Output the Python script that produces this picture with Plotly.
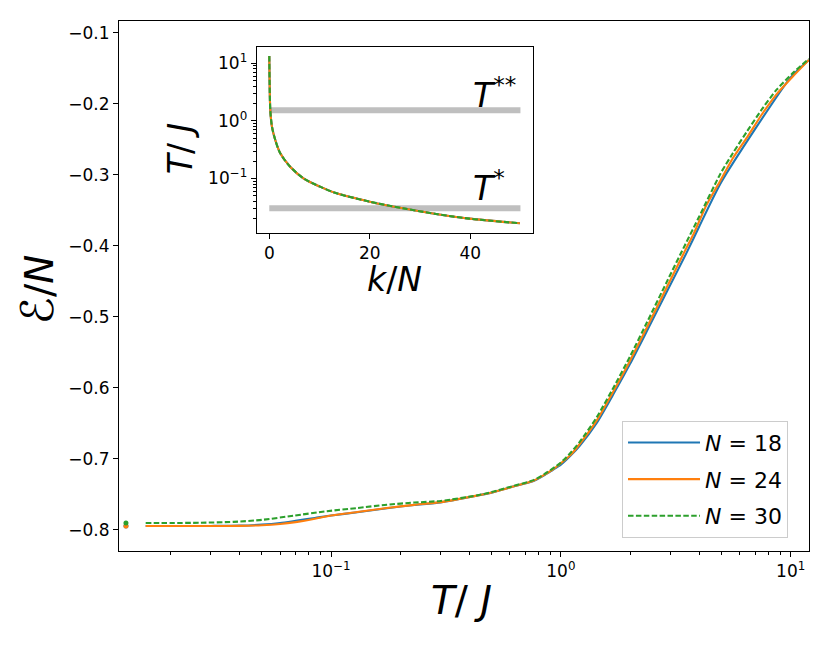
import plotly.graph_objects as go

# ---------------- data ----------------
T_18 = [0.0156, 0.02, 0.03, 0.04, 0.05, 0.06, 0.07, 0.085, 0.1, 0.13, 0.175, 0.23, 0.3,
        0.43, 0.5, 0.6, 0.76, 0.85, 0.92, 1.0, 1.1, 1.21, 1.43, 1.7, 2.0, 2.37, 2.9, 3.5,
        4.0, 5.0, 10.0, 12.0]
E_18 = [-0.7948, -0.7948, -0.7947, -0.7943, -0.7928, -0.7905, -0.7875, -0.7835, -0.7800,
        -0.7755, -0.7697, -0.7652, -0.7615, -0.7522, -0.7478, -0.7405, -0.7315, -0.7230,
        -0.7160, -0.7085, -0.6960, -0.6815, -0.6500, -0.6080, -0.5665, -0.5200, -0.4640,
        -0.4120, -0.3730, -0.3100, -0.1630, -0.1385]

T_24 = [0.0156, 0.02, 0.03, 0.04, 0.05, 0.06, 0.07, 0.085, 0.1, 0.13, 0.175, 0.23, 0.3,
        0.43, 0.5, 0.6, 0.76, 0.85, 0.92, 0.99, 1.1, 1.21, 1.43, 1.7, 2.0, 2.37, 2.89, 3.47,
        3.78, 4.3, 4.94, 5.6, 6.46, 7.5, 8.71, 10.3, 12.0]
E_24 = [-0.7948, -0.7948, -0.7948, -0.7946, -0.7938, -0.7920, -0.7893, -0.7845, -0.7800,
        -0.7752, -0.7694, -0.7650, -0.7612, -0.7520, -0.7475, -0.7405, -0.7310, -0.7225,
        -0.7155, -0.7075, -0.6950, -0.6790, -0.6465, -0.6040, -0.5620, -0.5150, -0.4587,
        -0.4070, -0.3835, -0.3430, -0.3085, -0.2770, -0.2475, -0.2150, -0.1863, -0.1606,
        -0.1385]

T_30 = [0.0156, 0.02, 0.027, 0.0375, 0.05, 0.0686, 0.0958, 0.13, 0.175, 0.23, 0.3, 0.43,
        0.5, 0.6, 0.76, 0.85, 0.92, 1.0, 1.1, 1.21, 1.43, 1.7, 2.0, 2.37, 2.89, 3.47, 4.0,
        4.94, 5.6, 6.46, 7.6, 8.71, 10.3, 12.0]
E_30 = [-0.7906, -0.7906, -0.7902, -0.7890, -0.7862, -0.7803, -0.7740, -0.7695, -0.7648,
        -0.7618, -0.7595, -0.7518, -0.7470, -0.7398, -0.7302, -0.7215, -0.7140, -0.7055,
        -0.6920, -0.6760, -0.6420, -0.5990, -0.5560, -0.5080, -0.4510, -0.3990, -0.3590,
        -0.2990, -0.2700, -0.2390, -0.2052, -0.1800, -0.1560, -0.1370]

# isolated first points
T_first = [0.0128]
E_first_18 = [-0.7948]
E_first_24 = [-0.7948]
E_first_30 = [-0.7906]

# inset: temperature schedule
kN = [0, 0.06, 0.2, 0.53, 1.19, 2.18, 4.16, 6.8, 10.1, 13.4, 20, 26.6, 33.2, 39.8, 49.9]
Tk = [13.4, 5.13, 1.55, 0.794, 0.466, 0.274, 0.160, 0.1007, 0.0721, 0.0553, 0.0396,
      0.0304, 0.0242, 0.0201, 0.0167]
k_band = [0, 50]
T_star = 0.0304
T_star2 = 1.53

labels = ["<i>N</i> = 18", "<i>N</i> = 24", "<i>N</i> = 30"]
colors = ["#1f77b4", "#ff7f0e", "#2ca02c"]

main_x_ticks = [0.1, 1, 10]
main_x_text = ["10<sup>−1</sup>", "10<sup>0</sup>", "10<sup>1</sup>"]
main_y_ticks = [-0.8, -0.7, -0.6, -0.5, -0.4, -0.3, -0.2, -0.1]
inset_x_ticks = [0, 20, 40]
inset_y_ticks = [0.1, 1, 10]
inset_y_text = ["10<sup>−1</sup>", "10<sup>0</sup>", "10<sup>1</sup>"]

FONT = "DejaVu Sans"
LW = 2.1
DASH = "5.5px,2.4px"

fig = go.Figure()

series = [(T_18, E_18, E_first_18), (T_24, E_24, E_first_24), (T_30, E_30, E_first_30)]
for i, (tx, ey, ef) in enumerate(series):
    fig.add_trace(go.Scatter(
        x=tx, y=ey, mode="lines", name=labels[i], legendgroup=f"g{i}",
        line=dict(color=colors[i], width=LW, dash=DASH if i == 2 else "solid", shape="spline",
                  smoothing=0.6),
        xaxis="x", yaxis="y"))
for i, (tx, ey, ef) in enumerate(series):
    fig.add_trace(go.Scatter(
        x=T_first, y=ef, mode="markers", showlegend=False,
        marker=dict(color=colors[i], size=5), xaxis="x", yaxis="y"))

# inset
for yb in [T_star2, T_star]:
    fig.add_trace(go.Scatter(
        x=k_band, y=[yb, yb], mode="lines", showlegend=False,
        line=dict(color="#bfbfbf", width=6), xaxis="x2", yaxis="y2"))
for i in range(3):
    fig.add_trace(go.Scatter(
        x=kN, y=Tk, mode="lines", showlegend=False,
        line=dict(color=colors[i], width=LW, dash=DASH if i == 2 else "solid",
                  shape="spline", smoothing=0.8),
        xaxis="x2", yaxis="y2"))

def minor_log(decades):
    vals = []
    for d in decades:
        for m in range(2, 10):
            vals.append(m * 10 ** d)
    return vals

axis_common = dict(showline=True, linecolor="black", linewidth=1.1, mirror=True,
                   showgrid=False, zeroline=False, ticks="outside", ticklen=5,
                   tickwidth=1.1, tickcolor="black", automargin=False,
                   tickfont=dict(family=FONT, size=17, color="black"))

# the page body adds an 8px offset; margins compensate for it
fig.update_layout(
    width=830, height=646,
    margin=dict(l=111, r=29, t=13, b=103, autoexpand=False),
    paper_bgcolor="white", plot_bgcolor="white",
    font=dict(family=FONT, color="black"),
    xaxis=dict(type="log", range=[-1.923, 1.0797], tickmode="array",
               tickvals=main_x_ticks, ticktext=main_x_text, domain=[0, 1],
               minor=dict(tickmode="array", tickvals=minor_log([-2, -1, 0, 1]),
                          ticks="outside", ticklen=3, tickwidth=0.8, tickcolor="black"),
               **axis_common),
    yaxis=dict(range=[-0.830, -0.0837], tickmode="array", tickvals=main_y_ticks,
               tickformat=".1f", domain=[0, 1], **axis_common),
    xaxis2=dict(range=[-2.5, 52.5], tickmode="array", tickvals=inset_x_ticks,
                domain=[0.1996, 0.600], anchor="y2", **axis_common),
    yaxis2=dict(type="log", range=[-1.941, 1.288], tickmode="array",
                tickvals=inset_y_ticks, ticktext=inset_y_text,
                domain=[0.6006, 0.9515], anchor="x2",
                minor=dict(tickmode="array", tickvals=minor_log([-2, -1, 0, 1]),
                           ticks="outside", ticklen=3, tickwidth=0.8, tickcolor="black"),
                **axis_common),
    legend=dict(x=0.729, y=0.025, xanchor="left", yanchor="bottom",
                bgcolor="rgba(255,255,255,0.8)", bordercolor="#cccccc", borderwidth=1,
                font=dict(family=FONT, size=22, color="black"),
                tracegroupgap=5, itemwidth=72),
    showlegend=True,
)

ann = [
    dict(text="<i><span style='font-size:45px'>ℰ</span></i>/<i>N</i>", x=-0.1188, y=0.494,
         textangle=-90, size=39),
    dict(text="<i>T</i>/ <i>J</i>", x=0.497, y=-0.0925, textangle=0, size=39),
    dict(text="<i>T</i>/ <i>J</i>", x=0.0884, y=0.760, textangle=-90, size=33),
    dict(text="<i>k</i>/<i>N</i>", x=0.3986, y=0.513, textangle=0, size=33),
]
for a in ann:
    fig.add_annotation(text=a["text"], x=a["x"], y=a["y"], xref="paper", yref="paper",
                       textangle=a["textangle"], showarrow=False, xanchor="center",
                       yanchor="middle", font=dict(family=FONT, size=a["size"], color="black"))

fig.add_annotation(text="<i>T</i><sup>**</sup>", x=0.5101, y=0.864, xref="paper", yref="paper",
                   showarrow=False, xanchor="left", yanchor="middle",
                   font=dict(family=FONT, size=33, color="black"))
fig.add_annotation(text="<i>T</i><sup>*</sup>", x=0.510, y=0.687, xref="paper", yref="paper",
                   showarrow=False, xanchor="left", yanchor="middle",
                   font=dict(family=FONT, size=33, color="black"))

fig.write_html("out.html")
